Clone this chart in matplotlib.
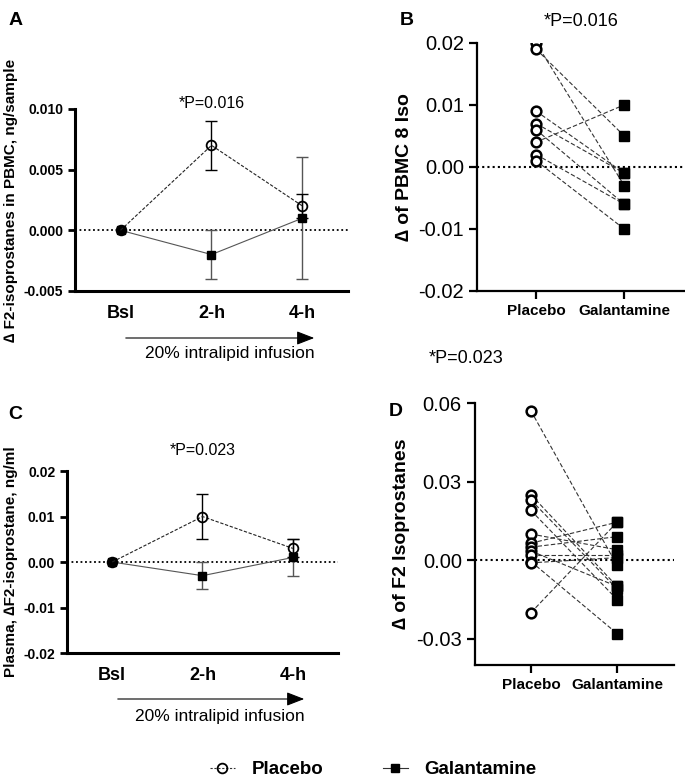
import numpy as np
import matplotlib
matplotlib.use('Agg')
from matplotlib import pyplot as plt
from matplotlib.lines import Line2D

plt.rcParams['font.family'] = ['Liberation Sans', 'DejaVu Sans']

# time course (A and C)
times = ['Bsl', '2-h', '4-h']
a_placebo = [0.0, 0.007, 0.002]
a_placebo_err = [0.0, 0.002, 0.001]
a_galant = [0.0, -0.002, 0.001]
a_galant_err = [0.0, 0.002, 0.005]

c_placebo = [0.0, 0.010, 0.003]
c_placebo_err = [0.0, 0.005, 0.002]
c_galant = [0.0, -0.003, 0.001]
c_galant_err = [0.0, 0.003, 0.004]

# paired values (B and D)
groups = ['Placebo', 'Galantamine']
b_placebo = [0.020, 0.019, 0.009, 0.007, 0.006, 0.004, 0.002, 0.001]
b_galant = [-0.003, 0.005, -0.001, -0.001, -0.006, 0.010, -0.006, -0.010]

d_placebo = [0.057, 0.025, 0.023, 0.019, 0.010, 0.0065, 0.005, 0.0035, 0.002, -0.0005, -0.001, -0.020]
d_galant = [-0.002, -0.010, -0.011, -0.015, 0.004, 0.0145, 0.009, -0.010, 0.002, -0.028, 0.001, 0.0145]

fig = plt.figure(figsize=(6.85, 7.8), dpi=100)


def time_panel(rect, plac, plac_err, gal, gal_err, yticks, ylim, ylabel, ptext, pty):
    ax = fig.add_axes(rect)
    x = np.arange(len(times))
    ax.axhline(0, color='black', ls=(0, (1, 1.5)), lw=1.3, zorder=1)
    ax.errorbar(x[1:], gal[1:], yerr=gal_err[1:], fmt='none', ecolor='#555555',
                elinewidth=1.0, capsize=4, capthick=1.0, zorder=2)
    ax.errorbar(x[1:], plac[1:], yerr=plac_err[1:], fmt='none', ecolor='black',
                elinewidth=1.0, capsize=4, capthick=1.0, zorder=2)
    ax.plot(x, gal, color='#555555', lw=0.8, marker='s', ms=6,
            mfc='black', mec='black', zorder=3)
    ax.plot(x, plac, color='#222222', lw=0.8, ls=(0, (3, 1.5)), marker='o', ms=7,
            mfc='none', mec='black', mew=1.3, zorder=4)
    ax.set_xlim(-0.5, 2.5)
    ax.set_ylim(*ylim)
    ax.set_yticks(yticks)
    ax.set_xticks(x)
    ax.set_xticklabels(times, fontsize=13, fontweight='bold')
    ax.tick_params(axis='x', length=0, pad=10)
    ax.tick_params(axis='y', length=5, width=2, direction='out')
    for s in ['top', 'right']:
        ax.spines[s].set_visible(False)
    for s in ['left', 'bottom']:
        ax.spines[s].set_linewidth(2.2)
    ax.set_ylabel(ylabel, fontsize=11, fontweight='bold')
    ax.text(1, pty, ptext, transform=ax.get_xaxis_transform(), ha='center',
            va='bottom', fontsize=11.5)
    return ax


def pair_panel(rect, plac, gal, yticks, ylim, ylabel, xlim):
    ax = fig.add_axes(rect)
    ax.axhline(0, color='black', ls=(0, (1, 1.5)), lw=1.5, zorder=1)
    for p, g in zip(plac, gal):
        ax.plot([0, 1], [p, g], color='#333333', lw=0.8, ls=(0, (4, 2)), zorder=2)
    ax.plot(np.zeros(len(plac)), plac, ls='none', marker='o', ms=7,
            mfc='white', mec='black', mew=1.8, zorder=3)
    ax.plot(np.ones(len(gal)), gal, ls='none', marker='s', ms=6.5,
            mfc='black', mec='black', zorder=3)
    ax.set_xlim(*xlim)
    ax.set_ylim(*ylim)
    ax.set_yticks(yticks)
    ax.set_yticklabels(['%.2f' % v for v in yticks], fontsize=14.5)
    ax.set_xticks([0, 1])
    ax.set_xticklabels(groups, fontsize=11, fontweight='bold')
    ax.tick_params(axis='both', length=6, width=1.6, direction='out')
    for s in ['top', 'right']:
        ax.spines[s].set_visible(False)
    for s in ['left', 'bottom']:
        ax.spines[s].set_linewidth(1.6)
    ax.set_ylabel(ylabel, fontsize=14, fontweight='bold')
    return ax


axA = time_panel([0.1095, 0.627, 0.3985, 0.2333], a_placebo, a_placebo_err,
                 a_galant, a_galant_err, [-0.005, 0.0, 0.005, 0.010],
                 (-0.005, 0.010), '∆ F2-isoprostanes in PBMC, ng/sample',
                 '*P=0.016', 0.99)
axA.set_yticklabels(['-0.005', '0.000', '0.005', '0.010'], fontsize=10, fontweight='bold')

axC = time_panel([0.0978, 0.1628, 0.3956, 0.2333], c_placebo, c_placebo_err,
                 c_galant, c_galant_err, [-0.02, -0.01, 0.0, 0.01, 0.02],
                 (-0.02, 0.02), 'Plasma, ∆F2-isoprostane, ng/ml',
                 '*P=0.023', 1.07)
axC.set_yticklabels(['-0.02', '-0.01', '0.00', '0.01', '0.02'], fontsize=10, fontweight='bold')

axB = pair_panel([0.6964, 0.627, 0.3036, 0.318], b_placebo, b_galant,
                 [-0.02, -0.01, 0.0, 0.01, 0.02], (-0.02, 0.02),
                 '∆ of PBMC 8 Iso', (-0.67, 1.69))
axB.text(0.5, 1.05, '*P=0.016', transform=axB.transAxes, ha='center', va='bottom', fontsize=13)

axD = pair_panel([0.6934, 0.1474, 0.2905, 0.3359], d_placebo, d_galant,
                 [-0.03, 0.0, 0.03, 0.06], (-0.04, 0.06),
                 '∆ of F2 Isoprostanes', (-0.65, 1.66))

fig.text(0.68, 0.54, '*P=0.023', ha='center', va='center', fontsize=13)

# panel letters
for lab, xp, yp in [('A', 0.012, 0.985), ('B', 0.584, 0.985),
                    ('C', 0.012, 0.48), ('D', 0.567, 0.483)]:
    fig.text(xp, yp, lab, fontsize=14, fontweight='bold', ha='left', va='top')

# infusion arrows
for y_arr, x0, x1, y_txt, x_txt in [(1 - 338 / 780, 123 / 685, 317 / 685, 1 - 354 / 780, 230 / 685),
                                     (1 - 699 / 780, 115 / 685, 307 / 685, 1 - 717 / 780, 220 / 685)]:
    fig.add_artist(matplotlib.patches.FancyArrowPatch(
        (x0, y_arr), (x1, y_arr), transform=fig.transFigure,
        arrowstyle='-|>,head_length=0.9,head_width=0.35', color='black', lw=0.8,
        mutation_scale=12))
    fig.text(x_txt, y_txt, '20% intralipid infusion', ha='center', va='center', fontsize=12.5)

# legend
handles = [Line2D([], [], color='#333333', lw=0.8, ls=(0, (2, 1.5)), marker='o', ms=7,
                  mfc='none', mec='black', mew=1.3),
           Line2D([], [], color='#333333', lw=0.8, marker='s', ms=6, mfc='black', mec='black')]
fig.legend(handles, groups, loc='center', bbox_to_anchor=(0.545, 0.013), ncol=2,
           frameon=False, handlelength=1.3, handletextpad=0.9, columnspacing=3.2,
           prop={'weight': 'bold', 'size': 13.5})

fig.savefig('out.png', dpi=100)
